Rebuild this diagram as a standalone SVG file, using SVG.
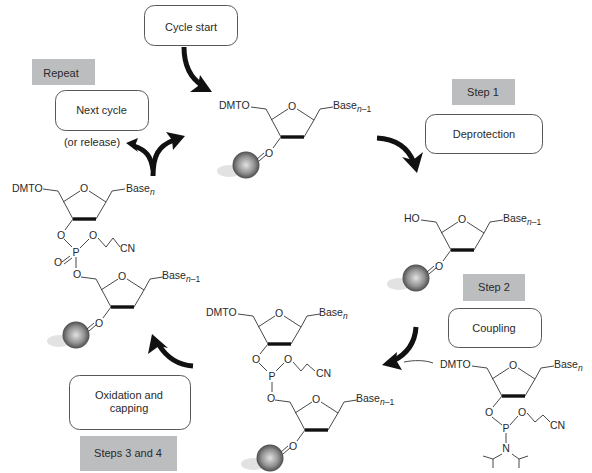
<svg xmlns="http://www.w3.org/2000/svg" width="592" height="473" viewBox="0 0 592 473">
<style>
text{font-family:"Liberation Sans",Arial,sans-serif;font-size:10.5px;fill:#2a2a2a}
.m{text-anchor:middle}
.lbl{font-size:11px}
.sub{font-size:8.5px}
.it{font-style:italic}
.box{fill:#fff;stroke:#444;stroke-width:.9}
.tag{fill:#bcbdbf}
.bond{fill:none;stroke:#333;stroke-width:.9}
.bar{fill:none;stroke:#111;stroke-width:3.4}
.arrow{fill:none;stroke:#111;stroke-width:5}
.head{fill:#111}
.shadow{fill:#e2e2e2}
</style>
<defs>
<radialGradient id="ballFill" cx="50%" cy="50%" r="52%"><stop offset="0" stop-color="#e2e2e2"/><stop offset=".6" stop-color="#929292"/><stop offset="1" stop-color="#474747"/></radialGradient>
<g id="ring">
<path class="bond" d="M-41 1L-26 3L-11 31M-21 14L-4 3M5 3L22 14L12 31M22 14L28 3L41 1"/>
<path class="bar" d="M-11 31H12"/>
<text class="m" x="0" y="4">O</text>
</g>
<g id="ballO">
<ellipse class="shadow" cx="-63" cy="65" rx="12" ry="6"/>
<circle cx="-46" cy="59" r="13.500" fill="url(#ballFill)"/>
<path class="bond" d="M-11 31L-19 42M-35 53L-28 47M-33 55L-26 49"/>
<text class="m" x="-23" y="51">O</text>
</g>
</defs>
<g id="connectors">
<path class="arrow" d="M184 47C184 66 190 78 203 86"/>
<path class="head" d="M212 92L190 92L198 86L200 75Z"/>
<path class="arrow" d="M153 176C153 156 158 146 174 140"/>
<path class="head" d="M185 136L166 132L172 140L173 150Z"/>
<path class="arrow" d="M153 170C151 156 146 150 134 146"/>
<path class="head" d="M126 143L138 138L135 146L138 152Z"/>
<path class="arrow" d="M377 138C395 139 408 147 414 163"/>
<path class="head" d="M417 173L402 157L413 160L423 152Z"/>
<path class="arrow" d="M416 327C415 343 407 354 393 361"/>
<path class="head" d="M382 365L397 352L396 360L402 370Z"/>
<path class="bond" d="M433 363C425 360 414 360 404 362"/>
<path class="arrow" d="M193 366C178 365 167 358 159 345"/>
<path class="head" d="M152 334L168 348L159 346L148 354Z"/>
</g>
<g id="cycle-start"><rect class="box" x="144.500" y="5.500" width="93" height="40" rx="10"/><text class="m lbl" x="191" y="31">Cycle start</text></g>
<g id="repeat"><rect class="tag" x="32" y="59" width="63" height="26"/><text class="m lbl" x="61" y="77">Repeat</text></g>
<g id="next-cycle"><rect class="box" x="55.500" y="90.500" width="93" height="40" rx="10"/><text class="m lbl" x="101.500" y="114">Next cycle</text><text class="m lbl" x="92" y="146">(or release)</text></g>
<g id="step-1"><rect class="tag" x="452" y="79" width="63" height="26"/><text class="m lbl" x="483" y="96">Step 1</text></g>
<g id="deprotection"><rect class="box" x="425.500" y="114.500" width="117" height="39" rx="10"/><text class="m lbl" x="484" y="138">Deprotection</text></g>
<g id="step-2"><rect class="tag" x="463" y="274" width="62" height="27"/><text class="m lbl" x="494" y="291">Step 2</text></g>
<g id="coupling"><rect class="box" x="448.500" y="308.500" width="93" height="39" rx="10"/><text class="m lbl" x="494" y="332">Coupling</text></g>
<g id="oxidation"><rect class="box" x="69.500" y="375.500" width="121" height="54" rx="10"/><text class="m lbl" x="129" y="399">Oxidation and</text><text class="m lbl" x="129" y="412">capping</text></g>
<g id="steps-3-4"><rect class="tag" x="80" y="436" width="97" height="35"/><text class="m lbl" x="128" y="457">Steps 3 and 4</text></g>

<g id="mol-start" transform="translate(292 106)">
<use href="#ring"/><use href="#ballO"/>
<text x="-73" y="3">DMTO</text><text x="41" y="3">Base<tspan class="sub it" dy="3">n</tspan><tspan class="sub" dy="0">–1</tspan></text>
</g>
<g id="mol-deprotected" transform="translate(462 219)">
<use href="#ring"/><use href="#ballO"/>
<text x="-58" y="3">HO</text><text x="41" y="3">Base<tspan class="sub it" dy="3">n</tspan><tspan class="sub" dy="0">–1</tspan></text>
</g>
<g id="mol-oxidized">
<g transform="translate(84 188)"><use href="#ring"/><text x="-72" y="4">DMTO</text><text x="42" y="4">Base<tspan class="sub it" dy="3">n</tspan></text></g>
<path class="bond" d="M73 219L65 230M64 239L72 247M80 248L89 239M98 238L106 247L113 238L120 247M76 257V268M70 256L62 262M72 258L64 264"/>
<text class="m" x="61" y="239">O</text><text class="m" x="76" y="256">P</text><text class="m" x="93" y="239">O</text><text x="120" y="252">CN</text><text class="m" x="58" y="266">O</text><text class="m" x="77" y="278">O</text>
<g transform="translate(122 276)"><use href="#ring"/><use href="#ballO"/><text x="40" y="3">Base<tspan class="sub it" dy="3">n</tspan><tspan class="sub" dy="0">–1</tspan></text></g>
</g>
<g id="mol-phosphite">
<g transform="translate(279 313)"><use href="#ring"/><text x="-73" y="3">DMTO</text><text x="40" y="3">Base<tspan class="sub it" dy="3">n</tspan></text></g>
<path class="bond" d="M268 344L260 354M259 363L267 371M276 371L284 363M293 362L301 371L307 364L315 371M272 382V392"/>
<text class="m" x="256" y="363">O</text><text class="m" x="272" y="380">P</text><text class="m" x="288" y="363">O</text><text x="316" y="377">CN</text><text class="m" x="271" y="402">O</text>
<g transform="translate(316 399)"><use href="#ring"/><use href="#ballO"/><text x="40" y="3">Base<tspan class="sub it" dy="3">n</tspan><tspan class="sub" dy="0">–1</tspan></text></g>
</g>
<g id="mol-amidite">
<g transform="translate(513 365)"><use href="#ring"/><text x="-73" y="3">DMTO</text><text x="41" y="3">Base<tspan class="sub it" dy="3">n</tspan></text></g>
<path class="bond" d="M502 396L493 407M492 417L502 425M510 425L518 416M527 413L535 422L543 415L550 422M506 433V443M502 454L493 459L483 456M493 459V468M512 454L519 459L528 456M519 459V468"/>
<text class="m" x="489" y="416">O</text><text class="m" x="506" y="432">P</text><text class="m" x="522" y="416">O</text><text x="550" y="429">CN</text><text class="m" x="506" y="452">N</text>
</g>
</svg>
